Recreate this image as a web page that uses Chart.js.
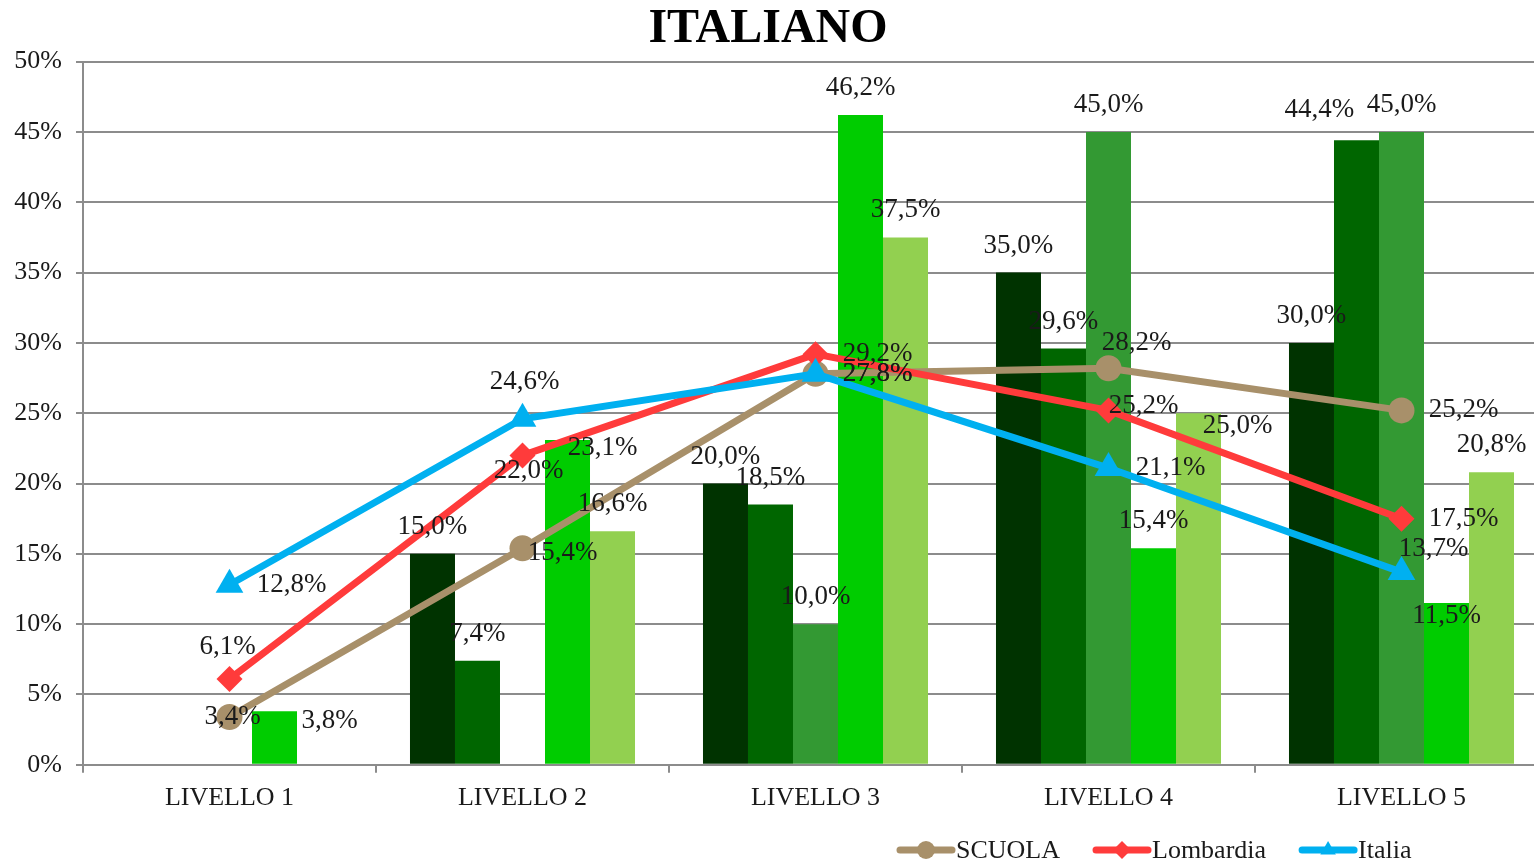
<!DOCTYPE html>
<html>
<head>
<meta charset="utf-8">
<script src="https://cdn.jsdelivr.net/npm/chart.js@4/dist/chart.umd.min.js"></script>
<style>
  html, body { margin: 0; padding: 0; background: #fff; overflow: hidden; }
  canvas { display: block; }
</style>
</head>
<body>
<canvas id="chart" width="1548" height="862"></canvas>
<script>
const categories = ["LIVELLO 1", "LIVELLO 2", "LIVELLO 3", "LIVELLO 4", "LIVELLO 5"];

// bar series (green shades, not in legend)
const bars1 = [0, 15.0, 20.0, 35.0, 30.0];
const bars2 = [0, 7.4, 18.5, 29.6, 44.4];
const bars3 = [0, 0, 10.0, 45.0, 45.0];
const bars4 = [3.8, 23.1, 46.2, 15.4, 11.5];
const bars5 = [0, 16.6, 37.5, 25.0, 20.8];

// line series
const scuola = [3.4, 15.4, 27.8, 28.2, 25.2];
const lombardia = [6.1, 22.0, 29.2, 25.2, 17.5];
const italia = [12.8, 24.6, 27.8, 21.1, 13.7];

const yTicks = [0, 5, 10, 15, 20, 25, 30, 35, 40, 45, 50];

const serif = "'Liberation Serif', 'Times New Roman', serif";
const fmt = (v) => v.toFixed(1).replace(".", ",") + "%";

function barSet(data, color) {
  return {
    type: "bar",
    data: data,
    backgroundColor: color,
    borderWidth: 0,
    order: 5,
    categoryPercentage: 0.768,
    barPercentage: 1.0,
  };
}

function lineSet(label, data, color, style, radius, order) {
  return {
    type: "line",
    label: label,
    data: data,
    borderColor: color,
    backgroundColor: color,
    borderWidth: 7,
    pointStyle: style,
    pointRadius: radius,
    pointHoverRadius: radius,
    pointBorderWidth: 0,
    pointBackgroundColor: color,
    tension: 0,
    order: order,
    isLine: true,
  };
}

// value labels: above bars, right of line points; a few nudged like the original
const valueLabels = {
  id: "valueLabels",
  afterDatasetsDraw(chart, args, opts) {
    const ctx = chart.ctx;
    ctx.save();
    ctx.font = "27px " + serif;
    ctx.fillStyle = "#1a1a1a";
    ctx.textAlign = "center";
    ctx.textBaseline = "middle";
    chart.data.datasets.forEach((ds, i) => {
      const meta = chart.getDatasetMeta(i);
      meta.data.forEach((el, j) => {
        const v = ds.data[j];
        if (!v) return;
        const nudge = opts.nudge[i + "-" + j] || [0, 0];
        let x, y;
        if (ds.type === "bar") {
          x = el.x;
          y = el.y - 27;
        } else {
          x = el.x + 62;
          y = el.y;
        }
        ctx.fillText(fmt(v), x + nudge[0], y + nudge[1]);
      });
    });
    ctx.restore();
  },
};

// legend with only the line series, line + marker like the original
const lineLegend = {
  id: "lineLegend",
  afterDraw(chart, args, opts) {
    const ctx = chart.ctx;
    ctx.save();
    ctx.font = "26px " + serif;
    ctx.textBaseline = "middle";
    ctx.textAlign = "left";
    let x = opts.x;
    const y = opts.y;
    chart.data.datasets.filter((d) => d.isLine).forEach((ds) => {
      ctx.strokeStyle = ds.borderColor;
      ctx.lineWidth = 7;
      ctx.lineCap = "round";
      ctx.beginPath();
      ctx.moveTo(x + 3, y);
      ctx.lineTo(x + 55, y);
      ctx.stroke();
      ctx.fillStyle = ds.borderColor;
      Chart.helpers.drawPoint(ctx, { pointStyle: ds.pointStyle, radius: 9, rotation: 0, borderWidth: 0 }, x + 29, y);
      ctx.fillStyle = "#1a1a1a";
      ctx.fillText(ds.label, x + 59, y + 1);
      x += 59 + ctx.measureText(ds.label).width + 33;
    });
    ctx.restore();
  },
};

new Chart(document.getElementById("chart"), {
  data: {
    labels: categories,
    datasets: [
      lineSet("SCUOLA", scuola, "#A8906A", "circle", 13, 3),
      lineSet("Lombardia", lombardia, "#FF3B3B", "rectRot", 13, 2),
      lineSet("Italia", italia, "#00B0F0", "triangle", 16, 1),
      barSet(bars1, "#003300"),
      barSet(bars2, "#006600"),
      barSet(bars3, "#339933"),
      barSet(bars4, "#00CC00"),
      barSet(bars5, "#92D050"),
    ],
  },
  options: {
    responsive: false,
    animation: false,
    // the original plot runs past the right edge of the picture (canvas is wider than the window)
    layout: { autoPadding: false, padding: { left: -12, right: 0, top: 0, bottom: 38 } },
    plugins: {
      legend: { display: false },
      tooltip: { enabled: false },
      title: {
        display: true,
        text: "ITALIANO",
        color: "#000",
        font: { family: serif, size: 48, weight: "bold" },
        padding: { top: 1, bottom: 3 },
      },
      lineLegend: { x: 897, y: 850 },
      valueLabels: {
        // key: datasetIndex-dataIndex, value: [dx, dy]
        nudge: {
          "0-0": [-59, 0], "0-1": [-22, 5], "0-3": [-34, -25],
          "1-0": [-64, -32], "1-1": [-56, 16], "1-3": [-27, -4],
          "2-1": [-60, -37], "2-4": [-30, -23],
          "4-4": [-37, -3],
          "6-0": [55, 37], "6-1": [35, 35], "6-4": [0, 40],
          "7-3": [39, 40],
        },
      },
    },
    scales: {
      x: {
        afterFit: (axis) => {
          axis.paddingLeft = 0;
          axis.paddingRight = 0;
        },
        grid: {
          drawOnChartArea: false,
          drawTicks: true,
          tickLength: 8,
          color: "#8c8c8c",
          lineWidth: 2,
        },
        border: { color: "#8c8c8c", width: 2 },
        ticks: {
          color: "#1a1a1a",
          padding: 10,
          font: { family: serif, size: 26 },
        },
      },
      y: {
        min: 0,
        max: 50,
        afterBuildTicks: (axis) => {
          axis.ticks = yTicks.map((v) => ({ value: v }));
        },
        afterFit: (axis) => {
          axis.width = 95;
        },
        grid: {
          color: "#8c8c8c",
          lineWidth: 2,
          tickLength: 7,
        },
        border: { color: "#8c8c8c", width: 2 },
        ticks: {
          color: "#1a1a1a",
          padding: 14,
          font: { family: serif, size: 26 },
          callback: (v) => v + "%",
        },
      },
    },
  },
  plugins: [valueLabels, lineLegend],
});
</script>
</body>
</html>
